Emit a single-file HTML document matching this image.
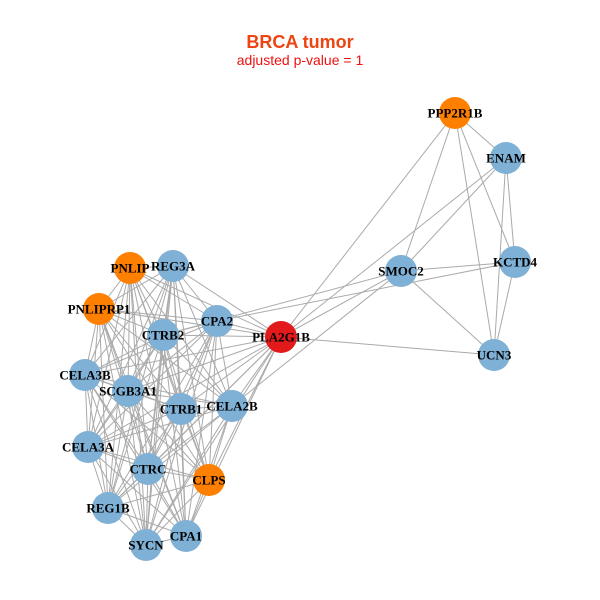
<!DOCTYPE html>
<html><head><meta charset="utf-8"><style>
html,body{margin:0;padding:0;background:#fff;width:600px;height:600px;overflow:hidden}
svg text{font-family:"Liberation Serif",serif;font-weight:bold;font-size:13px;text-anchor:middle;dominant-baseline:central;fill:#000}
</style></head><body>
<svg id="s" width="600" height="600" viewBox="0 0 600 600">
<text x="300" y="42" style="font-family:'Liberation Sans',sans-serif;font-size:18px;fill:#ee4411">BRCA tumor</text>
<text x="300" y="60" style="font-family:'Liberation Sans',sans-serif;font-weight:normal;font-size:14px;fill:#ee1111">adjusted p-value = 1</text>
<g id="edges" stroke="#aaaaaa" stroke-width="1"></g>
<g id="nodes"></g>
<g id="labels">
<text x="455" y="113">PPP2R1B</text>
<text x="506" y="158">ENAM</text>
<text x="515" y="262">KCTD4</text>
<text x="401" y="271">SMOC2</text>
<text x="494" y="355">UCN3</text>
<text x="281" y="337">PLA2G1B</text>
<text x="130" y="268">PNLIP</text>
<text x="173" y="266">REG3A</text>
<text x="99" y="309">PNLIPRP1</text>
<text x="217" y="321">CPA2</text>
<text x="163" y="335">CTRB2</text>
<text x="85" y="375">CELA3B</text>
<text x="128" y="391">SCGB3A1</text>
<text x="232" y="406">CELA2B</text>
<text x="181" y="409">CTRB1</text>
<text x="88" y="447">CELA3A</text>
<text x="148" y="469">CTRC</text>
<text x="209" y="480">CLPS</text>
<text x="108" y="508">REG1B</text>
<text x="186" y="536">CPA1</text>
<text x="146" y="545">SYCN</text>
</g>
</svg>
<script>
var N={PPP2R1B:[455,113,'o'],ENAM:[506,158],KCTD4:[515,262],SMOC2:[401,271],UCN3:[494,355],PLA2G1B:[281,337,'r'],
PNLIP:[130,268,'o'],REG3A:[173,266],PNLIPRP1:[99,309,'o'],CPA2:[217,321],CTRB2:[163,335],CELA3B:[85,375],SCGB3A1:[128,391],
CELA2B:[232,406],CTRB1:[181,409],CELA3A:[88,447],CTRC:[148,469],CLPS:[209,480,'o'],REG1B:[108,508],CPA1:[186,536],SYCN:[146,545]};
var ns="http://www.w3.org/2000/svg",E=document.getElementById('edges'),G=document.getElementById('nodes');
function L(a,b){var p=N[a],q=N[b],l=document.createElementNS(ns,'line');l.setAttribute('x1',p[0]);l.setAttribute('y1',p[1]);l.setAttribute('x2',q[0]);l.setAttribute('y2',q[1]);E.appendChild(l);}
var P=['PNLIP','REG3A','PNLIPRP1','CPA2','CTRB2','CELA3B','SCGB3A1','CELA2B','CTRB1','CELA3A','CTRC','CLPS','REG1B','CPA1','SYCN','PLA2G1B'];
for(var i=0;i<P.length;i++)for(var j=i+1;j<P.length;j++)L(P[i],P[j]);
[['PPP2R1B','ENAM'],['PPP2R1B','KCTD4'],['PPP2R1B','UCN3'],['PPP2R1B','SMOC2'],['PPP2R1B','PLA2G1B'],['ENAM','SMOC2'],['ENAM','KCTD4'],['ENAM','UCN3'],['ENAM','PLA2G1B'],['SMOC2','KCTD4'],['SMOC2','UCN3'],['SMOC2','PLA2G1B'],['KCTD4','UCN3'],['PLA2G1B','UCN3'],['SMOC2','CTRB2'],['SMOC2','CELA2B'],['KCTD4','CPA2']].forEach(function(e){L(e[0],e[1]);});
for(var k in N){var c=document.createElementNS(ns,'circle');c.setAttribute('cx',N[k][0]);c.setAttribute('cy',N[k][1]);c.setAttribute('r',16);
c.setAttribute('fill',N[k][2]=='o'?'#ff7f00':N[k][2]=='r'?'#e31a1c':'#7fb0d5');G.appendChild(c);}
</script>
</body></html>
